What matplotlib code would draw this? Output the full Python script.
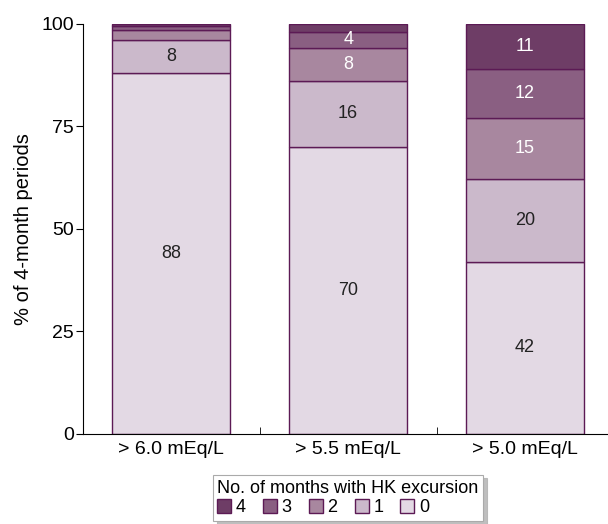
import numpy as np
import matplotlib.pyplot as plt

plt.rcParams['font.family'] = ['Liberation Sans', 'DejaVu Sans']

# ===========================
#      Data
# ===========================
categories = ["> 6.0 mEq/L", "> 5.5 mEq/L", "> 5.0 mEq/L"]
months = ["0", "1", "2", "3", "4"]
pct_0 = [88, 70, 42]
pct_1 = [8, 16, 20]
pct_2 = [2.5, 8, 15]
pct_3 = [1, 4, 12]
pct_4 = [0.5, 2, 11]
series = [pct_0, pct_1, pct_2, pct_3, pct_4]

colors = ["#e3d9e4", "#cbb9cb", "#a8879f", "#8a5f82", "#6e3d66"]
text_colors = ["#222222", "#222222", "white", "white", "white"]
edge = "#5c1a55"

# ===========================
#      Plot
# ===========================
fig = plt.figure(figsize=(6.08, 5.24), dpi=100)
ax = fig.add_axes([0.1365, 0.172, 0.8635, 0.783])

x = np.arange(len(categories))
bottom = np.zeros(len(categories))
bars = []
for vals, c, tc in zip(series, colors, text_colors):
    b = ax.bar(x, vals, width=0.667, bottom=bottom, color=c,
               edgecolor=edge, linewidth=1.0)
    bars.append(b)
    for xi, v, b0 in zip(x, vals, bottom):
        if v >= 3:
            ax.text(xi, b0 + v / 2, f"{v:g}", ha='center', va='center',
                    fontsize=13, color=tc)
    bottom = bottom + np.array(vals)

ax.set_xlim(-0.5, 2.47)
ax.set_ylim(0, 100)
ax.set_yticks([0, 25, 50, 75, 100])
ax.set_xticks(x)
ax.set_xticklabels(categories, fontsize=14)
ax.tick_params(axis='x', length=0, pad=5)
ax.set_xticks([0.5, 1.5], minor=True)
ax.tick_params(axis='x', which='minor', direction='in', length=5)
ax.tick_params(axis='y', labelsize=14, length=5, pad=1.5)
ax.set_ylabel("% of 4-month periods", fontsize=14.5, labelpad=6)

for s in ['top', 'right']:
    ax.spines[s].set_visible(False)

handles = bars[::-1]
leg = fig.legend(handles, months[::-1], title="No. of months with HK excursion",
                 loc='upper center', bbox_to_anchor=(348 / 608, 1 - 475 / 524),
                 borderaxespad=0, ncol=5, fontsize=13, title_fontsize=13,
                 handlelength=0.78, handleheight=0.78, handletextpad=0.25,
                 columnspacing=0.95, fancybox=False,
                 shadow={'ox': 3, 'oy': -2, 'color': '#b0b0b0', 'alpha': 0.8},
                 edgecolor='#aaaaaa', borderpad=0.25, labelspacing=0.1,
                 alignment='left')
leg._legend_box.sep = 2
leg.get_frame().set_linewidth(0.8)

plt.savefig("out.png", dpi=100)
plt.close()
